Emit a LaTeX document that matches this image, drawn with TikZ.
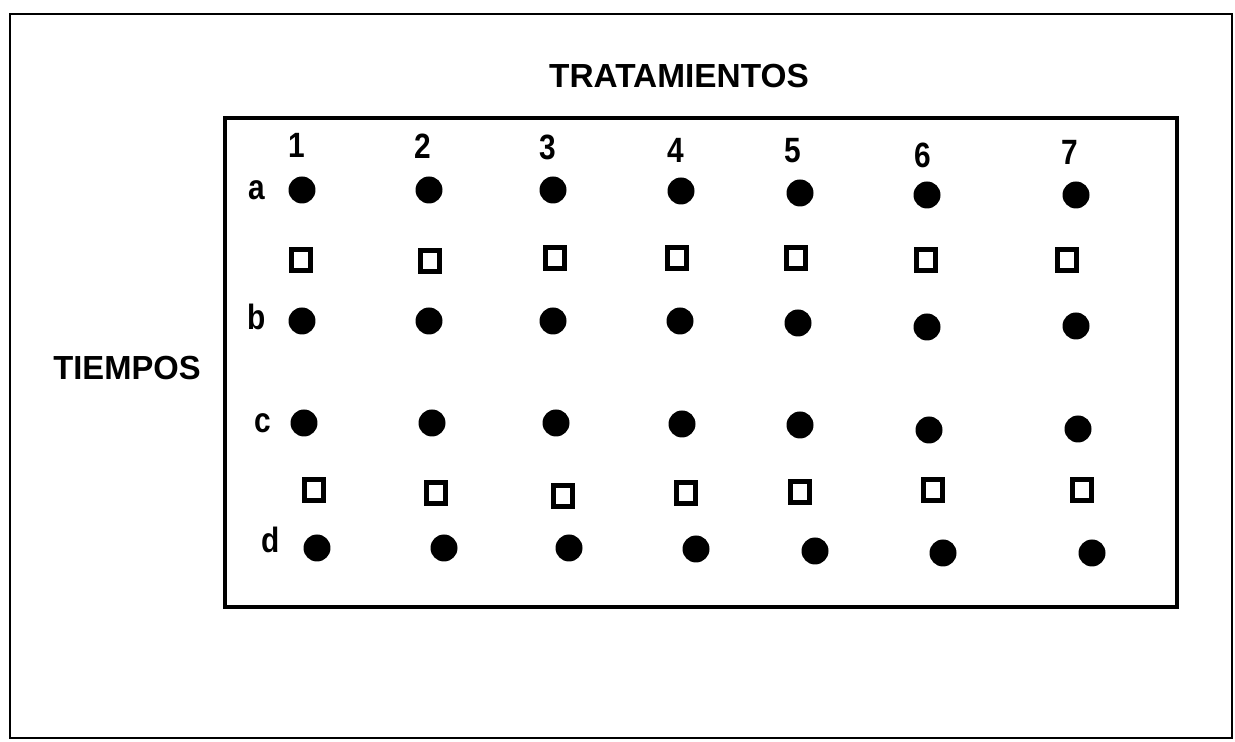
\documentclass[tikz,border=0pt]{standalone}
\usepackage{fontspec}
\setmainfont{Liberation Sans}
\begin{document}
\begin{tikzpicture}[x=0.02cm,y=-0.02cm,
  dot/.style={circle,fill=black,draw=none,inner sep=0pt,minimum size=0.54cm},
  sq/.style={rectangle,draw=black,line width=2.8pt,fill=white,inner sep=0pt,minimum width=0.38cm,minimum height=0.42cm},
  lbl/.style={anchor=base,inner sep=0pt,font=\fontsize{20}{20}\selectfont\bfseries},
  ttl/.style={anchor=base,inner sep=0pt,font=\fontsize{19}{19}\selectfont\bfseries}]
\useasboundingbox (0,0) rectangle (1235,742);
\draw[line width=1.2pt] (10,14) rectangle (1232,738);
\draw[line width=2.8pt] (225,118) rectangle (1177,607);
\node[ttl] (title) at (679,88) {TRATAMIENTOS};
\node[ttl] (tiempos) at (127,380) {\scalebox{0.98}[1]{TIEMPOS}};
% column labels
\node[lbl] (n1) at (297,158) {\scalebox{0.85}[1]{1}};
\node[lbl] (n2) at (423,159) {\scalebox{0.85}[1]{2}};
\node[lbl] (n3) at (548,160) {\scalebox{0.85}[1]{3}};
\node[lbl] (n4) at (676,163) {\scalebox{0.85}[1]{4}};
\node[lbl] (n5) at (793,163) {\scalebox{0.85}[1]{5}};
\node[lbl] (n6) at (923,168) {\scalebox{0.85}[1]{6}};
\node[lbl] (n7) at (1070,165) {\scalebox{0.85}[1]{7}};
% row labels
\node[lbl] (la) at (257,200) {\scalebox{0.85}[1]{a}};
\node[lbl] (lb) at (257,330) {\scalebox{0.85}[1]{b}};
\node[lbl] (lc) at (263,433) {\scalebox{0.85}[1]{c}};
\node[lbl] (ld) at (271,553) {\scalebox{0.85}[1]{d}};
% row a
\node[dot] (a1) at (302,190) {};
\node[dot] (a2) at (429,190) {};
\node[dot] (a3) at (553,190) {};
\node[dot] (a4) at (681,191) {};
\node[dot] (a5) at (800,193) {};
\node[dot] (a6) at (927,195) {};
\node[dot] (a7) at (1076,195) {};
% squares 1
\node[sq] (p1) at (301,260) {};
\node[sq] (p2) at (430,261) {};
\node[sq] (p3) at (555,258) {};
\node[sq] (p4) at (677,258) {};
\node[sq] (p5) at (796,258) {};
\node[sq] (p6) at (926,260) {};
\node[sq] (p7) at (1067,260) {};
% row b
\node[dot] (b1) at (302,321) {};
\node[dot] (b2) at (429,321) {};
\node[dot] (b3) at (553,321) {};
\node[dot] (b4) at (680,321) {};
\node[dot] (b5) at (798,323) {};
\node[dot] (b6) at (927,327) {};
\node[dot] (b7) at (1076,326) {};
% row c
\node[dot] (c1) at (304,423) {};
\node[dot] (c2) at (432,423) {};
\node[dot] (c3) at (556,423) {};
\node[dot] (c4) at (682,424) {};
\node[dot] (c5) at (800,425) {};
\node[dot] (c6) at (929,430) {};
\node[dot] (c7) at (1078,429) {};
% squares 2
\node[sq] (q1) at (314,490) {};
\node[sq] (q2) at (436,493) {};
\node[sq] (q3) at (563,496) {};
\node[sq] (q4) at (686,493) {};
\node[sq] (q5) at (800,492) {};
\node[sq] (q6) at (933,490) {};
\node[sq] (q7) at (1082,490) {};
% row d
\node[dot] (d1) at (317,548) {};
\node[dot] (d2) at (444,548) {};
\node[dot] (d3) at (569,548) {};
\node[dot] (d4) at (696,549) {};
\node[dot] (d5) at (815,551) {};
\node[dot] (d6) at (943,553) {};
\node[dot] (d7) at (1092,553) {};
\end{tikzpicture}
\end{document}
